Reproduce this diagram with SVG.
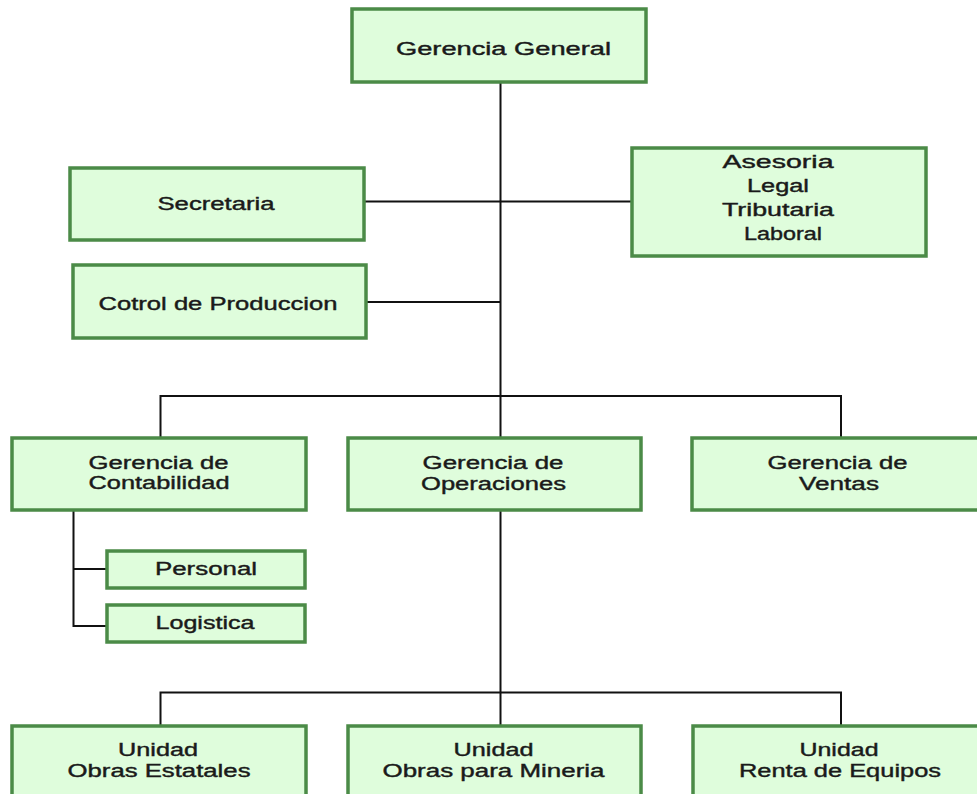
<svg xmlns="http://www.w3.org/2000/svg" width="977" height="794" viewBox="0 0 977 794">
<style>
.box{fill:#dffddc;stroke:#4b8b47;stroke-width:3.5}
.lbl{font-family:"Liberation Sans",Arial,sans-serif;font-size:18px;fill:#1a1a1a;stroke:#1a1a1a;stroke-width:0.4;text-anchor:middle}
.con{fill:none;stroke:#111;stroke-width:2}
</style>
<rect width="977" height="794" fill="#ffffff"/>
<g id="connectors">
<path class="con" d="M500.5 82V438"/>
<path class="con" d="M364 201.5H632"/>
<path class="con" d="M366 302H500.5"/>
<path class="con" d="M160.5 438V396H841V438"/>
<path class="con" d="M500.5 510V726"/>
<path class="con" d="M160.5 726V692.5H841V726"/>
<path class="con" d="M73.5 510V626H107M73.5 569H107"/>
</g>
<g id="gerencia-general"><rect class="box" x="352" y="9" width="294" height="73"/><text class="lbl" x="503.5" y="54.5" textLength="215" lengthAdjust="spacingAndGlyphs">Gerencia General</text></g>
<g id="secretaria"><rect class="box" x="70" y="168" width="294" height="72"/><text class="lbl" x="216" y="210" textLength="117" lengthAdjust="spacingAndGlyphs">Secretaria</text></g>
<g id="cotrol"><rect class="box" x="73" y="265" width="293" height="73"/><text class="lbl" x="218" y="310" textLength="239" lengthAdjust="spacingAndGlyphs">Cotrol de Produccion</text></g>
<g id="asesoria"><rect class="box" x="632" y="148" width="294" height="108"/>
<text class="lbl" x="778" y="168" textLength="111" lengthAdjust="spacingAndGlyphs">Asesoria</text>
<text class="lbl" x="778" y="191.5" textLength="62" lengthAdjust="spacingAndGlyphs">Legal</text>
<text class="lbl" x="778" y="215.5" textLength="112" lengthAdjust="spacingAndGlyphs">Tributaria</text>
<text class="lbl" x="783" y="240" textLength="78" lengthAdjust="spacingAndGlyphs">Laboral</text></g>
<g id="contabilidad"><rect class="box" x="12" y="438" width="294" height="72"/>
<text class="lbl" x="158.5" y="469" textLength="140" lengthAdjust="spacingAndGlyphs">Gerencia de</text>
<text class="lbl" x="159" y="489" textLength="141" lengthAdjust="spacingAndGlyphs">Contabilidad</text></g>
<g id="operaciones"><rect class="box" x="348" y="438" width="293" height="72"/>
<text class="lbl" x="493" y="469" textLength="141" lengthAdjust="spacingAndGlyphs">Gerencia de</text>
<text class="lbl" x="493.5" y="490" textLength="145" lengthAdjust="spacingAndGlyphs">Operaciones</text></g>
<g id="ventas"><rect class="box" x="692" y="438" width="294" height="72"/>
<text class="lbl" x="837.5" y="469" textLength="140" lengthAdjust="spacingAndGlyphs">Gerencia de</text>
<text class="lbl" x="839" y="490" textLength="80" lengthAdjust="spacingAndGlyphs">Ventas</text></g>
<g id="personal"><rect class="box" x="107" y="551" width="198" height="37"/><text class="lbl" x="206" y="575" textLength="102" lengthAdjust="spacingAndGlyphs">Personal</text></g>
<g id="logistica"><rect class="box" x="107" y="605" width="198" height="37"/><text class="lbl" x="205" y="629" textLength="99" lengthAdjust="spacingAndGlyphs">Logistica</text></g>
<g id="obras-estatales"><rect class="box" x="12" y="726" width="294" height="100"/>
<text class="lbl" x="158" y="756" textLength="80" lengthAdjust="spacingAndGlyphs">Unidad</text>
<text class="lbl" x="159" y="777" textLength="183" lengthAdjust="spacingAndGlyphs">Obras Estatales</text></g>
<g id="obras-mineria"><rect class="box" x="348" y="726" width="293" height="100"/>
<text class="lbl" x="493.5" y="756" textLength="80" lengthAdjust="spacingAndGlyphs">Unidad</text>
<text class="lbl" x="493.5" y="777" textLength="222" lengthAdjust="spacingAndGlyphs">Obras para Mineria</text></g>
<g id="renta-equipos"><rect class="box" x="693" y="726" width="294" height="100"/>
<text class="lbl" x="839" y="756" textLength="79" lengthAdjust="spacingAndGlyphs">Unidad</text>
<text class="lbl" x="840" y="777" textLength="202" lengthAdjust="spacingAndGlyphs">Renta de Equipos</text></g>
</svg>
